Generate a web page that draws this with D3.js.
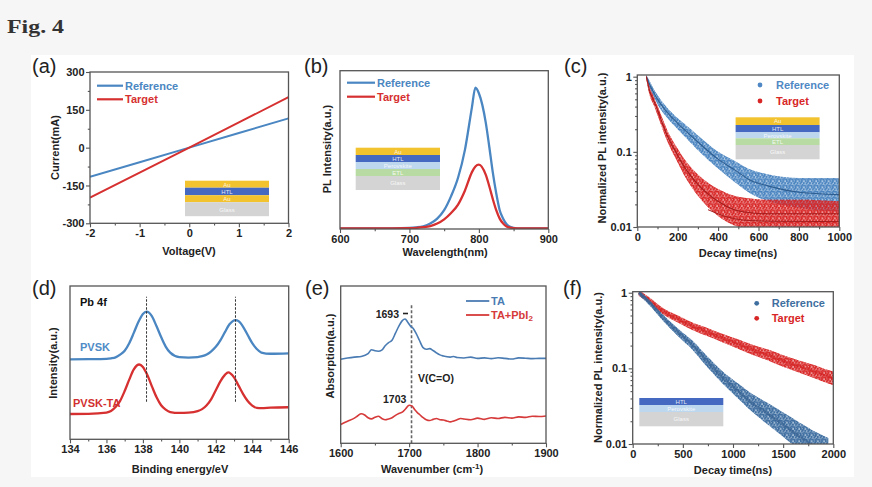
<!DOCTYPE html>
<html><head><meta charset="utf-8">
<script src="https://cdn.jsdelivr.net/npm/d3@7"></script>
<style>
html,body{margin:0;padding:0;background:#f6f6f6;}
svg{display:block;}
text{font-family:"Liberation Sans",Arial,sans-serif;}
</style></head><body>
<svg id="chart" width="872" height="487"></svg>
<script>
// ---------------- DATA ----------------
// (a) I-V
const ivVoltage = [-2, -1, 0, 1, 2];
const ivReference = [-116, -58, 0, 58, 116];
const ivTarget = [-198, -99, 0, 100, 200];
const ivXTicks = [-2, -1, 0, 1, 2];
const ivYTicks = [-300, -150, 0, 150, 300];

// (b) steady-state PL
const plWavelength = [600, 650, 700, 710, 720, 730, 740, 750, 760, 770, 780, 790, 795, 800, 810, 815, 820, 825, 830, 835, 840, 845, 850, 860, 900];
const plReference = [0, 0, 0.004, 0.008, 0.016, 0.035, 0.07, 0.13, 0.23, 0.36, 0.56, 0.86, 1.0, 0.96, 0.75, 0.58, 0.40, 0.25, 0.13, 0.07, 0.03, 0.012, 0.005, 0.001, 0];
const plTarget = [0, 0, 0.003, 0.005, 0.009, 0.017, 0.035, 0.065, 0.11, 0.17, 0.27, 0.40, 0.44, 0.453, 0.38, 0.30, 0.21, 0.13, 0.07, 0.035, 0.015, 0.006, 0.002, 0, 0];
const plXTicks = [600, 700, 800, 900];

// (c) TRPL, full device
const trplTime = [45, 60, 83, 100, 150, 200, 230, 300, 400, 480, 560, 650, 800, 1000];
const trplRefCenter = [1, 0.8, 0.6, 0.5, 0.33, 0.24, 0.2, 0.135, 0.08, 0.058, 0.042, 0.035, 0.029, 0.027];
const trplRefLow = [0.93, 0.72, 0.53, 0.43, 0.28, 0.2, 0.165, 0.105, 0.06, 0.04, 0.028, 0.022, 0.018, 0.016];
const trplRefHigh = [1.05, 0.88, 0.67, 0.57, 0.38, 0.28, 0.24, 0.165, 0.1, 0.076, 0.058, 0.05, 0.045, 0.045];
const trplTgtCenter = [1, 0.66, 0.47, 0.36, 0.16, 0.09, 0.065, 0.037, 0.022, 0.017, 0.0155, 0.015, 0.015, 0.015];
const trplTgtLow = [0.92, 0.58, 0.41, 0.31, 0.135, 0.072, 0.05, 0.026, 0.014, 0.0105, 0.0095, 0.0095, 0.0095, 0.0095];
const trplTgtHigh = [1.06, 0.74, 0.53, 0.41, 0.19, 0.11, 0.082, 0.05, 0.032, 0.026, 0.024, 0.023, 0.023, 0.022];
const trplTgtLowFitTime = [350, 450, 550, 700, 1000];
const trplTgtLowFit = [0.017, 0.0135, 0.0122, 0.0119, 0.0118];
const trplXTicks = [0, 200, 400, 600, 800, 1000];
const logTicks = [0.01, 0.1, 1];

// (d) XPS Pb 4f
const xpsEnergy = [134, 135, 136, 136.25, 136.5, 136.75, 137, 137.25, 137.5, 137.75, 138, 138.2, 138.5, 138.75, 139, 139.25, 139.5, 140, 140.5, 141, 141.25, 141.5, 141.75, 142, 142.25, 142.5, 142.75, 143.08, 143.25, 143.5, 143.75, 144, 144.25, 144.5, 145, 146];
const xpsPVSK = [5.22, 5.23, 5.25, 5.28, 5.34, 5.52, 5.78, 6.27, 6.94, 7.65, 8.18, 8.33, 8.02, 7.37, 6.67, 6.05, 5.65, 5.36, 5.33, 5.36, 5.42, 5.53, 5.74, 6.03, 6.45, 6.99, 7.5, 7.78, 7.71, 7.34, 6.8, 6.27, 5.89, 5.66, 5.58, 5.61];
const xpsEnergyTA = [134, 135, 136, 136.25, 136.5, 136.75, 137, 137.25, 137.5, 137.8, 138, 138.25, 138.5, 138.75, 139, 139.25, 139.5, 140, 140.5, 141, 141.25, 141.5, 141.75, 142, 142.25, 142.5, 142.68, 143, 143.25, 143.5, 143.75, 144, 144.25, 144.5, 145, 146];
const xpsPVSKTA = [1.65, 1.66, 1.74, 1.84, 2.1, 2.51, 3.15, 3.89, 4.56, 4.88, 4.72, 4.18, 3.44, 2.74, 2.22, 1.94, 1.78, 1.72, 1.74, 1.84, 1.97, 2.22, 2.62, 3.2, 3.78, 4.2, 4.37, 4.04, 3.5, 2.95, 2.5, 2.2, 2.05, 2.03, 2.06, 2.09];
const xpsGuides = [138.2, 143.08];
const xpsGuideSpan = [2.45, 9.3];
const xpsXTicks = [134, 136, 138, 140, 142, 144, 146];

// (e) FTIR
const irWavenumber = [1600, 1610, 1620, 1630, 1640, 1645, 1650, 1655, 1660, 1665, 1670, 1675, 1680, 1685, 1690, 1694, 1698, 1702, 1706, 1710, 1715, 1720, 1725, 1730, 1735, 1740, 1745, 1750, 1760, 1765, 1770, 1780, 1790, 1800, 1810, 1820, 1830, 1840, 1850, 1860, 1870, 1880, 1890, 1900];
const irTA = [5.34, 5.42, 5.48, 5.52, 5.7, 5.95, 5.88, 5.85, 5.92, 6.2, 6.4, 6.55, 7.0, 7.45, 7.8, 7.9, 7.7, 7.45, 7.3, 7.0, 6.55, 6.1, 5.98, 6.02, 5.9, 5.75, 5.62, 5.55, 5.48, 5.52, 5.45, 5.42, 5.48, 5.4, 5.43, 5.38, 5.44, 5.4, 5.36, 5.43, 5.41, 5.38, 5.4, 5.4];
const irWavenumber2 = [1600, 1610, 1620, 1625, 1630, 1635, 1640, 1645, 1650, 1655, 1660, 1665, 1670, 1675, 1680, 1685, 1690, 1695, 1700, 1704, 1708, 1712, 1716, 1720, 1725, 1730, 1735, 1740, 1745, 1750, 1755, 1760, 1765, 1770, 1775, 1780, 1790, 1800, 1810, 1820, 1830, 1840, 1850, 1860, 1870, 1880, 1890, 1900];
const irTAPbI2 = [1.2, 1.4, 1.6, 1.75, 1.88, 1.8, 1.62, 1.55, 1.65, 1.72, 1.58, 1.5, 1.55, 1.62, 1.78, 1.9, 1.98, 2.2, 2.42, 2.38, 2.15, 1.95, 1.8, 1.65, 1.5, 1.45, 1.52, 1.58, 1.5, 1.48, 1.42, 1.36, 1.42, 1.5, 1.58, 1.55, 1.5, 1.6, 1.52, 1.62, 1.58, 1.65, 1.6, 1.68, 1.65, 1.72, 1.7, 1.74];
const irGuide = 1703.5;
const irGuideTop = 8.9;
const irXTicks = [1600, 1700, 1800, 1900];

// (f) TRPL, film
const filmTimeRef = [60, 150, 300, 450, 600, 750, 900, 1050, 1200, 1350, 1500, 1650, 1800, 1950];
const filmRefLow = [0.93, 0.72, 0.43, 0.267, 0.174, 0.102, 0.062, 0.04, 0.026, 0.018, 0.0125, 0.0086, 0.006, 0.0047];
const filmRefHigh = [1.07, 0.84, 0.515, 0.337, 0.23, 0.141, 0.09, 0.063, 0.045, 0.0345, 0.026, 0.0197, 0.015, 0.012];
const filmRefCenter = [1, 0.78, 0.47, 0.3, 0.2, 0.12, 0.075, 0.05, 0.034, 0.025, 0.018, 0.013, 0.0095, 0.0075];
const filmTimeTgt = [60, 150, 300, 450, 600, 750, 900, 1050, 1200, 1350, 1500, 1650, 1800, 1950, 2000];
const filmTgtLow = [0.91, 0.75, 0.52, 0.405, 0.32, 0.265, 0.22, 0.182, 0.15, 0.127, 0.105, 0.089, 0.075, 0.063, 0.06];
const filmTgtHigh = [1.08, 0.9, 0.63, 0.5, 0.4, 0.34, 0.285, 0.242, 0.203, 0.177, 0.149, 0.128, 0.112, 0.095, 0.091];
const filmTgtCenter = [1, 0.82, 0.57, 0.45, 0.36, 0.3, 0.25, 0.21, 0.175, 0.15, 0.125, 0.107, 0.092, 0.078, 0.074];
const filmXTicks = [0, 500, 1000, 1500, 2000];

// inset stacks
const stackA = ["Au", "HTL", "Au", "Glass"];
const stackB = ["Au", "HTL", "Perovskite", "ETL", "Glass"];
const stackF = ["HTL", "Perovskite", "Glass"];

// ---------------- STYLE ----------------
const BLUE = "#4a86c1", RED = "#d63030";
const layerColor = {"Au": "#f3c22f", "HTL": "#4569c0", "Perovskite": "#bdd7ee", "ETL": "#b7dba2", "Glass": "#d4d4d4"};

const svg = d3.select("#chart");
svg.append("rect").attr("width", 872).attr("height", 487).attr("fill", "#f6f6f6");
svg.append("rect").attr("x", 31).attr("y", 55).attr("width", 823).attr("height", 422).attr("fill", "#fff");
svg.append("text").attr("x", 7).attr("y", 33).text("Fig. 4")
  .style("font-family", "'Liberation Serif','DejaVu Serif',serif").style("font-weight", "bold")
  .style("font-size", "19px").attr("fill", "#333").attr("textLength", 57).attr("lengthAdjust", "spacingAndGlyphs");

const defs = svg.append("defs");
// speckle texture used to render the dense scatter clouds (decorative tile offsets)
const speckle = [[0.7, 0.9], [3.6, 0.4], [5.2, 2.6], [1.9, 3.1], [4.1, 4.6], [0.5, 5.3], [2.8, 5.6], [5.5, 5.0], [2.9, 1.8]];
function dotPattern(id, color, r) {
  const p = defs.append("pattern").attr("id", id).attr("width", 6.2).attr("height", 6.2).attr("patternUnits", "userSpaceOnUse");
  speckle.forEach(s => p.append("circle").attr("cx", s[0]).attr("cy", s[1]).attr("r", r).attr("fill", color));
}
dotPattern("dotBlueC", "#4a84c0", 1.05);
dotPattern("dotRedC", "#d82626", 1.05);
dotPattern("dotBlueF", "#3b6b9e", 1.05);
dotPattern("dotRedF", "#d82626", 1.05);

let clipN = 0;
function makePanel(x0, x1, y0, y1) {
  const g = svg.append("g").attr("transform", `translate(${x0},${y0})`);
  const w = x1 - x0, h = y1 - y0;
  const id = "clip" + (clipN++);
  defs.append("clipPath").attr("id", id).append("rect").attr("width", w).attr("height", h);
  const plot = g.append("g").attr("clip-path", `url(#${id})`);
  return {g, plot, w, h, x0, y0};
}
function styleAxis(sel) {
  sel.select(".domain").remove();
  sel.selectAll(".tick line").attr("stroke", "#555").attr("stroke-width", 1.1);
  sel.selectAll(".tick text").attr("fill", "#222").style("font-size", "11px").style("font-weight", "bold");
}
const fmtPlain = d => String(d);
function xAxis(P, x, major, minor) {
  const a = P.g.append("g").attr("transform", `translate(0,${P.h})`)
    .call(d3.axisBottom(x).tickValues(major).tickSize(4).tickPadding(2).tickFormat(fmtPlain));
  styleAxis(a);
  if (minor) {
    const m = P.g.append("g").attr("transform", `translate(0,${P.h})`)
      .call(d3.axisBottom(x).tickValues(minor).tickSize(2.2).tickFormat(""));
    styleAxis(m);
  }
}
function yAxis(P, y, major, minor) {
  const a = P.g.append("g").call(d3.axisLeft(y).tickValues(major).tickSize(4).tickPadding(1.5).tickFormat(fmtPlain));
  styleAxis(a);
  if (minor) {
    const m = P.g.append("g").call(d3.axisLeft(y).tickValues(minor).tickSize(2.2).tickFormat(""));
    styleAxis(m);
  }
}
function frame(P) {
  P.g.append("rect").attr("width", P.w).attr("height", P.h).attr("fill", "none")
    .attr("stroke", "#555").attr("stroke-width", 1.3);
}
function label(txt, x, y, opts = {}) {
  const t = svg.append("text").attr("x", x).attr("y", y).text(txt)
    .attr("fill", opts.fill || "#222").style("font-size", (opts.size || 11) + "px")
    .style("font-weight", opts.weight || "bold").attr("text-anchor", opts.anchor || "start")
    .attr("dominant-baseline", opts.baseline || "auto");
  if (opts.rotate) t.attr("transform", `rotate(-90,${x},${y})`).attr("dominant-baseline", "central").attr("text-anchor", "middle");
  return t;
}
function panelLetter(txt, x, y) {
  label(txt, x, y, {size: 20, weight: "normal", fill: "#222"});
}
function inset(P, x, y, w, names, heights) {
  let yy = y;
  names.forEach((n, i) => {
    P.g.append("rect").attr("x", x).attr("y", yy).attr("width", w).attr("height", heights[i]).attr("fill", layerColor[n]);
    P.g.append("text").attr("x", x + w / 2).attr("y", yy + heights[i] / 2 + 0.3).attr("text-anchor", "middle")
      .attr("dominant-baseline", "central").attr("fill", "#fff").attr("fill-opacity", 0.85)
      .style("font-size", "6px").text(n);
    yy += heights[i];
  });
}
function lineLegend(x, y, color, txt, len) {
  svg.append("line").attr("x1", x).attr("x2", x + len).attr("y1", y).attr("y2", y).attr("stroke", color).attr("stroke-width", 2.2);
  label(txt, x + len + 2, y, {fill: color, baseline: "central"});
}
function dotLegend(x, y, color, txt, tx) {
  svg.append("circle").attr("cx", x).attr("cy", y).attr("r", 2.4).attr("fill", color);
  label(txt, tx, y, {fill: color, baseline: "central"});
}
const zip2 = (a, b) => a.map((v, i) => [v, b[i]]);

// ---------------- (a) ----------------
{
  const P = makePanel(90, 288.5, 72, 223.3);
  const x = d3.scaleLinear().domain([-2, 2]).range([0, P.w]);
  const y = d3.scaleLinear().domain([-300, 300]).range([P.h, 0]);
  const ln = d3.line().x(d => x(d[0])).y(d => y(d[1]));
  P.plot.append("path").attr("d", ln(zip2(ivVoltage, ivReference))).attr("fill", "none").attr("stroke", BLUE).attr("stroke-width", 2);
  P.plot.append("path").attr("d", ln(zip2(ivVoltage, ivTarget))).attr("fill", "none").attr("stroke", RED).attr("stroke-width", 2);
  inset(P, 95, 108.7, 84, stackA, [7, 7.5, 7, 14]);
  xAxis(P, x, ivXTicks, [-1.5, -0.5, 0.5, 1.5]);
  yAxis(P, y, ivYTicks, [-225, -75, 75, 225]);
  frame(P);
  panelLetter("(a)", 32, 73);
  label("Voltage(V)", 189, 255, {anchor: "middle"});
  label("Current(mA)", 55, 147.5, {rotate: true});
  lineLegend(97, 85.7, BLUE, "Reference", 26);
  lineLegend(97, 99.3, RED, "Target", 26);
}

// ---------------- (b) ----------------
{
  const P = makePanel(340, 548.3, 70.7, 229);
  const x = d3.scaleLinear().domain([600, 900]).range([0, P.w]);
  const y = d3.scaleLinear().domain([0, 1.12]).range([P.h - 0.5, 0]);
  const ln = d3.line().x(d => x(d[0])).y(d => y(d[1])).curve(d3.curveMonotoneX);
  P.plot.append("path").attr("d", ln(zip2(plWavelength, plReference))).attr("fill", "none").attr("stroke", BLUE).attr("stroke-width", 2.3);
  P.plot.append("path").attr("d", ln(zip2(plWavelength, plTarget))).attr("fill", "none").attr("stroke", RED).attr("stroke-width", 2.3);
  inset(P, 15.7, 77, 84.3, stackB, [7.3, 7, 7, 7, 14]);
  xAxis(P, x, plXTicks, [650, 750, 850]);
  frame(P);
  panelLetter("(b)", 304, 73);
  label("Wavelength(nm)", 445, 256, {anchor: "middle"});
  label("PL Intensity(a.u.)", 327, 149, {rotate: true});
  lineLegend(347, 82.7, BLUE, "Reference", 28);
  lineLegend(347, 96.7, RED, "Target", 28);
}

// ---------------- (c) ----------------
{
  const P = makePanel(637.3, 839.3, 75, 227);
  const x = d3.scaleLinear().domain([0, 1000]).range([0, P.w]);
  const y = d3.scaleLog().domain([0.01, 1.053]).range([P.h, 0]);
  const area = d3.area().x(d => x(d.t)).y0(d => y(d.lo)).y1(d => y(d.hi)).curve(d3.curveMonotoneX);
  const ln = d3.line().x(d => x(d[0])).y(d => y(d[1])).curve(d3.curveMonotoneX);
  const ref = trplTime.map((t, i) => ({t, lo: trplRefLow[i], hi: trplRefHigh[i]}));
  const tgt = trplTime.map((t, i) => ({t, lo: trplTgtLow[i], hi: trplTgtHigh[i]}));
  P.plot.append("path").attr("d", area(ref)).attr("fill", "#5b92ca").attr("fill-opacity", 0.45);
  P.plot.append("path").attr("d", area(ref)).attr("fill", "url(#dotBlueC)");
  P.plot.append("path").attr("d", area(tgt)).attr("fill", "#dc3333").attr("fill-opacity", 0.45);
  P.plot.append("path").attr("d", area(tgt)).attr("fill", "url(#dotRedC)");
  P.plot.append("path").attr("d", ln(zip2(trplTime, trplRefCenter))).attr("fill", "none").attr("stroke", "#2d5d90").attr("stroke-width", 1.1);
  P.plot.append("path").attr("d", ln(zip2(trplTime, trplTgtCenter))).attr("fill", "none").attr("stroke", "#a51c1c").attr("stroke-width", 1.1);
  P.plot.append("path").attr("d", ln(zip2(trplTgtLowFitTime, trplTgtLowFit))).attr("fill", "none").attr("stroke", "#a51c1c").attr("stroke-width", 1);
  inset(P, 98.3, 42.3, 84, stackB, [7.7, 7.3, 6, 6.7, 14.3]);
  xAxis(P, x, trplXTicks, [100, 300, 500, 700, 900]);
  yAxis(P, y, logTicks, [0.02, 0.03, 0.04, 0.05, 0.06, 0.07, 0.08, 0.09, 0.2, 0.3, 0.4, 0.5, 0.6, 0.7, 0.8, 0.9]);
  frame(P);
  panelLetter("(c)", 564, 73);
  label("Decay time(ns)", 738, 257, {anchor: "middle"});
  label("Normalized PL intensity(a.u.)", 601.7, 148, {rotate: true});
  dotLegend(760, 85, "#4f88c4", "Reference", 776);
  dotLegend(760, 101, "#d82626", "Target", 776);
}

// ---------------- (d) ----------------
{
  const P = makePanel(70, 288.7, 286, 439.3);
  const x = d3.scaleLinear().domain([134, 146]).range([0, P.w]);
  const y = d3.scaleLinear().domain([0, 10]).range([P.h, 0]);
  const ln = d3.line().x(d => x(d[0])).y(d => y(d[1])).curve(d3.curveMonotoneX);
  P.plot.append("path").attr("d", ln(zip2(xpsEnergy, xpsPVSK))).attr("fill", "none").attr("stroke", BLUE).attr("stroke-width", 2.3);
  P.plot.append("path").attr("d", ln(zip2(xpsEnergyTA, xpsPVSKTA))).attr("fill", "none").attr("stroke", RED).attr("stroke-width", 2.3);
  xpsGuides.forEach(e => {
    P.plot.append("line").attr("x1", x(e)).attr("x2", x(e)).attr("y1", y(xpsGuideSpan[0])).attr("y2", y(xpsGuideSpan[1]))
      .attr("stroke", "#333").attr("stroke-width", 1).attr("stroke-dasharray", "2.5,1.5");
  });
  xAxis(P, x, xpsXTicks, [135, 137, 139, 141, 143, 145]);
  frame(P);
  panelLetter("(d)", 32, 295);
  label("Binding energy/eV", 180, 473, {anchor: "middle"});
  label("Intensity(a.u.)", 53, 363, {rotate: true});
  label("Pb 4f", 80, 302, {baseline: "central", fill: "#111"});
  label("PVSK", 80, 347, {baseline: "central", fill: "#4f8cc6"});
  label("PVSK-TA", 73, 403, {baseline: "central", fill: "#d23030"});
}

// ---------------- (e) ----------------
{
  const P = makePanel(340.7, 546, 286, 443.3);
  const x = d3.scaleLinear().domain([1600, 1900]).range([0, P.w]);
  const y = d3.scaleLinear().domain([0, 10]).range([P.h, 0]);
  const ln = d3.line().x(d => x(d[0])).y(d => y(d[1])).curve(d3.curveMonotoneX);
  P.plot.append("line").attr("x1", x(irGuide)).attr("x2", x(irGuide)).attr("y1", y(0)).attr("y2", y(irGuideTop))
    .attr("stroke", "#666").attr("stroke-width", 1.6).attr("stroke-dasharray", "3,2");
  P.plot.append("path").attr("d", ln(zip2(irWavenumber, irTA))).attr("fill", "none").attr("stroke", "#4a7cb3").attr("stroke-width", 1.6);
  P.plot.append("path").attr("d", ln(zip2(irWavenumber2, irTAPbI2))).attr("fill", "none").attr("stroke", "#d63a3a").attr("stroke-width", 1.6);
  xAxis(P, x, irXTicks, [1650, 1750, 1850]);
  frame(P);
  panelLetter("(e)", 305, 295);
  const t = label("Wavenumber (cm", 432, 473, {anchor: "middle"});
  t.append("tspan").attr("dy", -4).style("font-size", "8px").text("-1");
  t.append("tspan").attr("dy", 4).text(")");
  label("Absorption(a.u.)", 330, 356, {rotate: true});
  label("1693", 399, 314, {anchor: "end", baseline: "central", size: 10.5});
  svg.append("line").attr("x1", 403).attr("x2", 408).attr("y1", 313.5).attr("y2", 313.5).attr("stroke", "#222").attr("stroke-width", 1.6);
  label("V(C=O)", 418, 378, {baseline: "central", size: 10.5});
  label("1703", 383, 399, {baseline: "central", size: 10.5});
  svg.append("line").attr("x1", 466).attr("x2", 489.3).attr("y1", 301).attr("y2", 301).attr("stroke", "#4a7cb3").attr("stroke-width", 1.8);
  label("TA", 491, 301, {baseline: "central", fill: "#4a7cb3"});
  svg.append("line").attr("x1", 466).attr("x2", 489.3).attr("y1", 315).attr("y2", 315).attr("stroke", "#d63a3a").attr("stroke-width", 1.8);
  const t2 = label("TA+PbI", 491, 315, {baseline: "central", fill: "#d63a3a"});
  t2.append("tspan").attr("dy", 3).style("font-size", "8px").text("2");
}

// ---------------- (f) ----------------
{
  const P = makePanel(632.7, 833.3, 291.7, 444);
  const x = d3.scaleLinear().domain([0, 2000]).range([0, P.w]);
  const y = d3.scaleLog().domain([0.01, 1.031]).range([P.h, 0]);
  const area = d3.area().x(d => x(d.t)).y0(d => y(d.lo)).y1(d => y(d.hi)).curve(d3.curveMonotoneX);
  const ln = d3.line().x(d => x(d[0])).y(d => y(d[1])).curve(d3.curveMonotoneX);
  const ref = filmTimeRef.map((t, i) => ({t, lo: filmRefLow[i], hi: filmRefHigh[i]}));
  const tgt = filmTimeTgt.map((t, i) => ({t, lo: filmTgtLow[i], hi: filmTgtHigh[i]}));
  P.plot.append("path").attr("d", area(tgt)).attr("fill", "#dc3333").attr("fill-opacity", 0.45);
  P.plot.append("path").attr("d", area(tgt)).attr("fill", "url(#dotRedF)");
  P.plot.append("path").attr("d", ln(zip2(filmTimeTgt, filmTgtCenter))).attr("fill", "none").attr("stroke", "#d42222").attr("stroke-width", 2.5).attr("stroke-opacity", 0.6);
  P.plot.append("path").attr("d", area(ref)).attr("fill", "#4577aa").attr("fill-opacity", 0.45);
  P.plot.append("path").attr("d", area(ref)).attr("fill", "url(#dotBlueF)");
  P.plot.append("path").attr("d", ln(zip2(filmTimeRef, filmRefCenter))).attr("fill", "none").attr("stroke", "#345f8f").attr("stroke-width", 2.5).attr("stroke-opacity", 0.6);
  inset(P, 6.6, 106.3, 84, stackF, [7, 7, 14.3]);
  xAxis(P, x, filmXTicks, [250, 750, 1250, 1750]);
  yAxis(P, y, logTicks, [0.02, 0.03, 0.04, 0.05, 0.06, 0.07, 0.08, 0.09, 0.2, 0.3, 0.4, 0.5, 0.6, 0.7, 0.8, 0.9]);
  frame(P);
  panelLetter("(f)", 563, 295);
  label("Decay time(ns)", 733, 474, {anchor: "middle"});
  label("Normalized PL intensity(a.u.)", 598, 367.5, {rotate: true});
  dotLegend(756.7, 303.3, "#3f6f9f", "Reference", 771.7);
  dotLegend(756.7, 318.3, "#d82626", "Target", 771.7);
}
</script>
</body></html>
